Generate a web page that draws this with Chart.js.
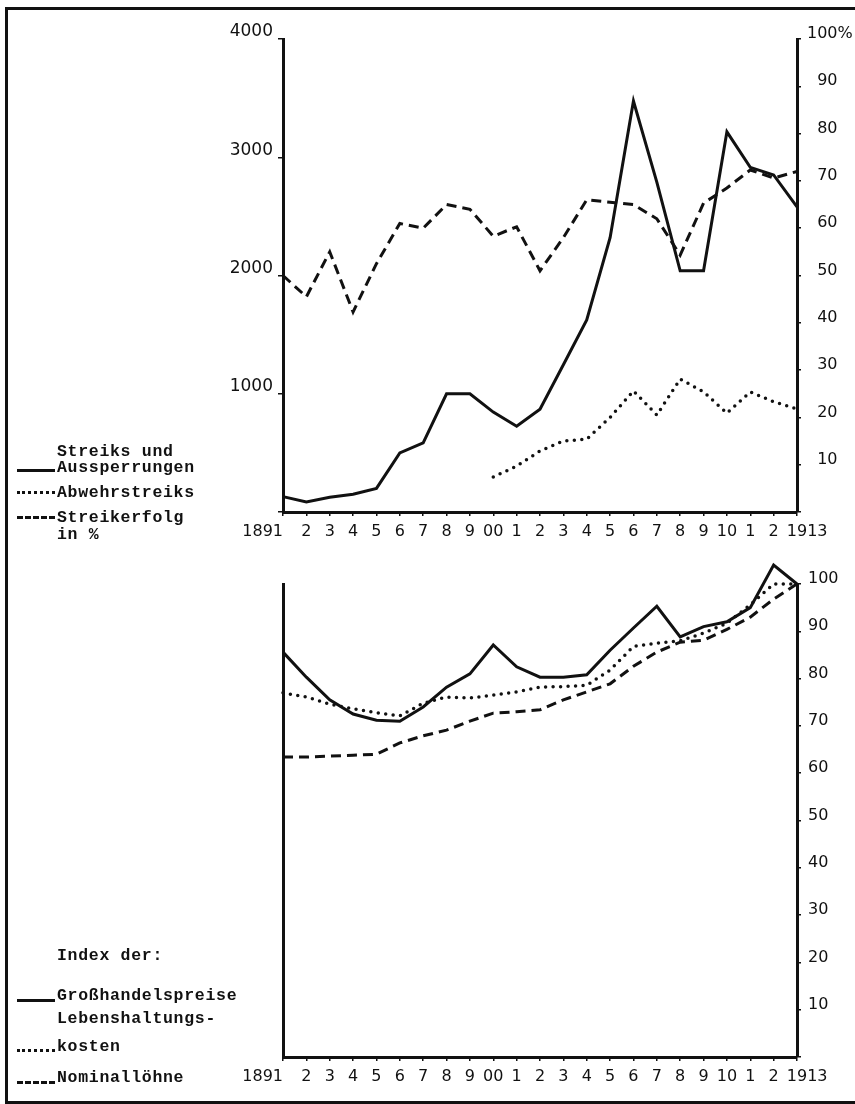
<!DOCTYPE html>
<html><head><meta charset="utf-8">
<script src="https://cdn.jsdelivr.net/npm/chart.js@4"></script>
<style>
html,body{margin:0;padding:0;background:#fff;}
body{width:855px;height:1104px;overflow:hidden;position:relative;}
#frame{position:absolute;left:5px;top:7px;width:870px;height:1091px;border-left:3px solid #111;border-top:3px solid #111;border-bottom:3px solid #111;}
canvas{position:absolute;left:0;}
#c1{top:0;}
#c2{top:560px;}
.lg{position:absolute;left:57px;font:bold 16.5px "Liberation Mono",monospace;letter-spacing:0.7px;color:#111;white-space:nowrap;line-height:17px;}
.sw{position:absolute;left:17px;width:38px;height:0;}
</style></head>
<body>
<div id="frame"></div>
<canvas id="c1" width="855" height="560"></canvas>
<canvas id="c2" width="855" height="544"></canvas>

<div class="lg" style="top:443px">Streiks und</div>
<div class="sw" style="top:469px;border-top:3px solid #111"></div>
<div class="lg" style="top:459px">Aussperrungen</div>
<div class="sw" style="top:491px;border-top:3px dotted #111"></div>
<div class="lg" style="top:484px">Abwehrstreiks</div>
<div class="sw" style="top:516px;border-top:3px dashed #111"></div>
<div class="lg" style="top:509px">Streikerfolg</div>
<div class="lg" style="top:526px">in %</div>

<div class="lg" style="top:947px">Index der:</div>
<div class="sw" style="top:999px;border-top:3px solid #111"></div>
<div class="lg" style="top:987px">Großhandelspreise</div>
<div class="lg" style="top:1010px">Lebenshaltungs-</div>
<div class="sw" style="top:1049px;border-top:3px dotted #111"></div>
<div class="lg" style="top:1038px">kosten</div>
<div class="sw" style="top:1081px;border-top:3px dashed #111"></div>
<div class="lg" style="top:1069px">Nominallöhne</div>

<script>
const years = ["1891","1892","1893","1894","1895","1896","1897","1898","1899","1900","1901","1902","1903","1904","1905","1906","1907","1908","1909","1910","1911","1912","1913"];
const xTickLabels = ["1891\u2007\u2007\u2007\u2007","2","3","4","5","6","7","8","9","00","1","2","3","4","5","6","7","8","9","10","1","2","\u2007\u20071913"];
const leftTicksTop = [0,1000,2000,3000,4000];
const rightTicksTop = ["","10","20","30","40","50","60","70","80","90","100%"];
const rightTicksBottom = ["","10","20","30","40","50","60","70","80","90","100"];

// Upper panel
const streiksUndAussperrungen = [130, 85, 125, 150, 200, 500, 585, 1000, 1000, 845, 725, 870, 1245, 1625, 2320, 3475, 2790, 2040, 2040, 3215, 2915, 2850, 2580];
const abwehrstreiks = [null, null, null, null, null, null, null, null, null, 7.4, 9.7, 12.9, 15, 15.4, 20, 25.6, 20.5, 28.1, 25.4, 20.9, 25.4, 23.3, 21.8];
const streikerfolg = [50, 45.5, 55, 42.3, 52.5, 61, 60, 65, 64, 58.3, 60.3, 51, 58, 66, 65.5, 65, 62, 54.3, 65.3, 68.5, 72.3, 70.6, 72];

// Lower panel
const grosshandelspreise = [85.6, 80.3, 75.5, 72.5, 71.2, 71, 74, 78.2, 81, 87.1, 82.5, 80.3, 80.3, 80.8, 86, 90.7, 95.3, 88.8, 91, 92, 95, 104, 100];
const lebenshaltungskosten = [77, 76.1, 74.6, 73.6, 72.8, 72.1, 74.8, 76.1, 75.9, 76.5, 77.2, 78.2, 78.3, 78.6, 81.8, 86.8, 87.5, 88, 89.6, 91.7, 95.6, 100, 100];
const nominalloehne = [63.4, 63.4, 63.6, 63.8, 64, 66.4, 67.9, 69.1, 71, 72.7, 73, 73.4, 75.5, 77.2, 78.9, 82.6, 85.6, 87.7, 88.1, 90.4, 93, 96.8, 100];

const INK = '#111';
const tickFont = {family: '"DejaVu Sans", sans-serif', size: 16};
const leftFont = {family: '"DejaVu Sans", sans-serif', size: 17};

function solid(data, axis){return {data, yAxisID: axis, borderColor: INK, borderWidth: 3, pointRadius: 0, tension: 0, fill: false, clip: false, borderJoinStyle: 'miter'};}
function dashed(data, axis){return {data, yAxisID: axis, borderColor: INK, borderWidth: 3, borderDash: [10, 6], pointRadius: 0, tension: 0, fill: false, clip: false};}
function dotted(data, axis){return {data, yAxisID: axis, borderColor: INK, borderWidth: 3.5, borderDash: [0, 7.5], borderCapStyle: 'round', pointRadius: 0, tension: 0, fill: false, clip: false};}

function xAxis(h){
  return {
    type: 'category', offset: false,
    afterFit: s => { s.height = h; },
    border: {display: true, color: INK, width: 3},
    grid: {display: true, drawOnChartArea: false, drawTicks: true, tickLength: 4, color: INK, lineWidth: 1.5},
    ticks: {autoSkip: false, maxRotation: 0, minRotation: 0, color: INK, font: tickFont, padding: 6,
      callback: (v, i) => xTickLabels[i]}
  };
}

const common = {
  responsive: false, animation: false,
  plugins: {legend: {display: false}, tooltip: {enabled: false}},
  events: []
};

new Chart(document.getElementById('c1'), {
  type: 'line',
  data: {labels: years, datasets: [
    solid(streiksUndAussperrungen, 'yL'),
    dotted(abwehrstreiks, 'yR'),
    dashed(streikerfolg, 'yR')
  ]},
  options: Object.assign({}, common, {
    layout: {padding: {top: 39, left: 0, right: 0, bottom: 0}, autoPadding: false},
    scales: {
      x: xAxis(48),
      yL: {
        position: 'left', min: 0, max: 4000,
        afterFit: s => { s.width = 283; },
        afterBuildTicks: s => { s.ticks = leftTicksTop.map(v => ({value: v})); },
        border: {display: true, color: INK, width: 3},
        grid: {display: true, drawOnChartArea: false, tickLength: 5, color: INK, lineWidth: 1.5},
        ticks: {color: INK, font: leftFont, padding: 5, labelOffset: -7, callback: v => v === 0 ? '' : String(v)}
      },
      yR: {
        position: 'right', min: 0, max: 100,
        afterFit: s => { s.width = 58; },
        border: {display: true, color: INK, width: 3},
        grid: {display: true, drawOnChartArea: false, tickLength: 4, color: INK, lineWidth: 1.5},
        ticks: {stepSize: 10, color: INK, font: tickFont, padding: 6, labelOffset: -5,
          callback: (v) => { const l = rightTicksTop[Math.round(v / 10)]; return (l === '' || l === '100%') ? l : '\u2007' + l; }}
      }
    }
  })
});

new Chart(document.getElementById('c2'), {
  type: 'line',
  data: {labels: years, datasets: [
    solid(grosshandelspreise, 'yR'),
    dotted(lebenshaltungskosten, 'yR'),
    dashed(nominalloehne, 'yR')
  ]},
  options: Object.assign({}, common, {
    layout: {padding: {top: 24, left: 0, right: 0, bottom: 0}, autoPadding: false},
    scales: {
      x: xAxis(47),
      yL: {
        position: 'left', min: 0, max: 100,
        afterFit: s => { s.width = 283; },
        border: {display: true, color: INK, width: 3},
        grid: {display: false},
        ticks: {display: false}
      },
      yR: {
        position: 'right', min: 0, max: 100,
        afterFit: s => { s.width = 58; },
        border: {display: true, color: INK, width: 3},
        grid: {display: true, drawOnChartArea: false, tickLength: 4, color: INK, lineWidth: 1.5},
        ticks: {stepSize: 10, color: INK, font: tickFont, padding: 7, labelOffset: -5,
          callback: (v) => rightTicksBottom[Math.round(v / 10)]}
      }
    }
  })
});
</script>
</body></html>
